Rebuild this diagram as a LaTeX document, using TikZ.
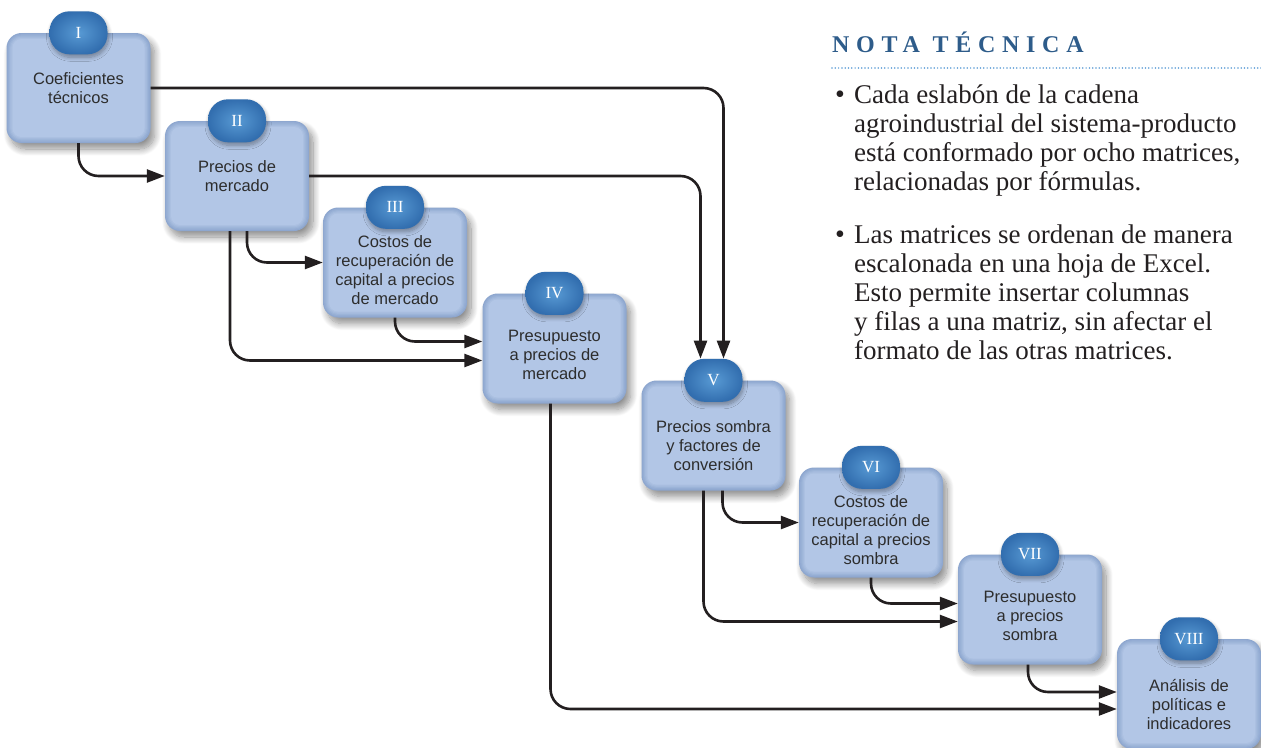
\documentclass[tikz,border=0pt]{standalone}
\usepackage{fontspec}
\setmainfont{Liberation Serif}
\newfontfamily\boxfont{Liberation Sans}
\newfontfamily\headfont[LetterSpace=28]{Liberation Serif}
\usetikzlibrary{arrows.meta,shadows.blur}
\definecolor{boxfill}{RGB}{178,198,230}
\definecolor{boxedge}{RGB}{142,167,207}
\definecolor{badgein}{RGB}{88,154,212}
\definecolor{badgeout}{RGB}{50,110,175}
\definecolor{linecol}{RGB}{35,31,32}
\definecolor{headblue}{RGB}{46,92,138}
\definecolor{dotblue}{RGB}{91,155,213}
\definecolor{textgray}{RGB}{45,45,45}
\definecolor{bodytext}{RGB}{35,31,32}
\begin{document}
\begin{tikzpicture}[x=1pt,y=-1pt,
  stepbox/.style={rectangle, rounded corners=15pt, minimum width=144pt, minimum height=110pt,
    fill=boxedge,
    blur shadow={shadow xshift=4pt, shadow yshift=-6pt, shadow blur radius=7pt, shadow blur steps=12, shadow opacity=45},
    path picture={
      \foreach \i/\c in {1.2/boxedge!80!boxfill, 2.4/boxedge!60!boxfill, 3.6/boxedge!40!boxfill, 4.8/boxedge!20!boxfill, 6/boxfill}{
        \fill[\c, rounded corners=15pt-\i pt] ([shift={(\i pt,-\i pt)}]path picture bounding box.north west) rectangle ([shift={(-\i pt,\i pt)}]path picture bounding box.south east);
      }
    }},
  badge/.style={rectangle, rounded corners=20pt, minimum width=58pt, minimum height=43pt,
    shade, inner color=badgein, outer color=badgeout, text=white, inner sep=0pt,
    font=\fontsize{17}{17}\selectfont,
    blur shadow={shadow xshift=1pt, shadow yshift=-3pt, shadow blur radius=4pt, shadow blur steps=8, shadow opacity=35}},
  boxtext/.style={align=center, font=\boxfont\fontsize{16.5}{19}\selectfont, text=textgray, inner sep=0pt},
  conn/.style={draw=linecol, line width=2.6pt, rounded corners=20pt, -{Triangle[length=18pt,width=13pt]}},
  bodyline/.style={anchor=base west, inner sep=0pt, font=\fontsize{27}{29}\selectfont, text=bodytext},
  bulletdot/.style={anchor=base west, inner sep=0pt, font=\fontsize{28}{29}\selectfont, text=bodytext}
]
\useasboundingbox (0,0) rectangle (1261,747);

% boxes
\node[stepbox] (b1) at (78.5,88) {};
\node[stepbox] (b2) at (237,176) {};
\node[stepbox] (b3) at (395,262.5) {};
\node[stepbox] (b4) at (554.5,348.5) {};
\node[stepbox] (b5) at (713.5,435.5) {};
\node[stepbox] (b6) at (871,522.5) {};
\node[stepbox] (b7) at (1030,609.5) {};
\node[stepbox] (b8) at (1189,694) {};

% badges
\node[badge] (g1) at (b1.north) {I};
\node[badge] (g2) at (b2.north) {II};
\node[badge] (g3) at (b3.north) {III};
\node[badge] (g4) at (b4.north) {IV};
\node[badge] (g5) at (b5.north) {V};
\node[badge] (g6) at (b6.north) {VI};
\node[badge] (g7) at (b7.north) {VII};
\node[badge] (g8) at (b8.north) {VIII};

% texts
\node[boxtext] (t1) at (78.5,88) {Coeficientes\\técnicos};
\node[boxtext] (t2) at (237,176.5) {Precios de\\mercado};
\node[boxtext] (t3) at (395,270.5) {Costos de\\recuperación de\\capital a precios\\de mercado};
\node[boxtext] (t4) at (554.5,355) {Presupuesto\\a precios de\\mercado};
\node[boxtext] (t5) at (713.5,446) {Precios sombra\\y factores de\\conversión};
\node[boxtext] (t6) at (871,530) {Costos de\\recuperación de\\capital a precios\\sombra};
\node[boxtext] (t7) at (1030,616) {Presupuesto\\a precios\\sombra};
\node[boxtext] (t8) at (1189,704.5) {Análisis de\\políticas e\\indicadores};

% connectors
\draw[conn] (b1.south) |- (b2.west);
\draw[conn] (b1.east) -| ([xshift=10pt]g5.north);
\draw[conn] (b2.east) -| ([xshift=-13pt]g5.north);
\draw[conn] ([xshift=10pt]b2.south) |- (b3.west);
\draw[conn] ([xshift=-7pt]b2.south) |- ([yshift=-12pt]b4.west);
\draw[conn] (b3.south) |- ([yshift=7pt]b4.west);
\draw[conn] ([xshift=-4pt]b4.south) |- ([yshift=-15pt]b8.west);
\draw[conn] ([xshift=9pt]b5.south) |- (b6.west);
\draw[conn] ([xshift=-10pt]b5.south) |- ([yshift=-12pt]b7.west);
\draw[conn] (b6.south) |- ([yshift=6pt]b7.west);
\draw[conn] ([xshift=-2pt]b7.south) |- ([yshift=2pt]b8.west);

% note
\node[anchor=base west, inner sep=0pt, text=headblue, font=\headfont\bfseries\fontsize{24}{24}\selectfont] (head) at (832,52) {NOTA TÉCNICA};
\coordinate (dl) at (832,68);
\coordinate (dr) at (1261,68);
\draw[dotblue, line width=1.7pt, line cap=round, dash pattern=on 0pt off 3.3pt] (dl) -- (dr);

\node[bulletdot] (u1) at (835,103) {•};
\node[bodyline] (p1) at (854,103) {Cada eslabón de la cadena};
\node[bodyline] (p2) at (854,132) {agroindustrial del sistema-producto};
\node[bodyline] (p3) at (854,161) {está conformado por ocho matrices,};
\node[bodyline] (p4) at (854,190) {relacionadas por fórmulas.};

\node[bulletdot] (u2) at (835,243) {•};
\node[bodyline] (q1) at (854,243) {Las matrices se ordenan de manera};
\node[bodyline] (q2) at (854,272) {escalonada en una hoja de Excel.};
\node[bodyline] (q3) at (854,301) {Esto permite insertar columnas};
\node[bodyline] (q4) at (854,330) {y filas a una matriz, sin afectar el};
\node[bodyline] (q5) at (854,359) {formato de las otras matrices.};
\end{tikzpicture}
\end{document}
